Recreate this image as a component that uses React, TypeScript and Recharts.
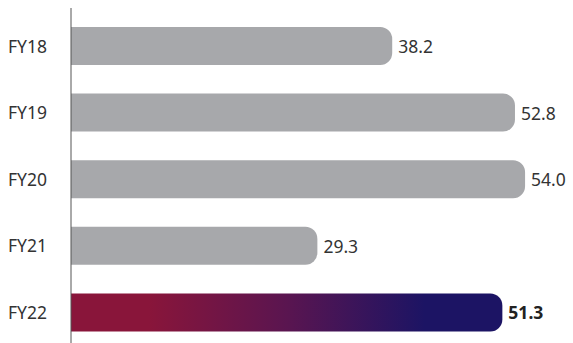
import React from 'react';
import { BarChart, Bar, XAxis, YAxis, Cell, LabelList } from 'recharts';

const categories = ['FY18', 'FY19', 'FY20', 'FY21', 'FY22'];
const values = [38.2, 52.8, 54.0, 29.3, 51.3];
const valueLabels = ['38.2', '52.8', '54.0', '29.3', '51.3'];
const highlightIndex = 4;

const data = categories.map((c, i) => ({ name: c, value: values[i], label: valueLabels[i] }));

const FONT = '"Noto Sans", sans-serif';

const renderLabel = (props: any) => {
  const { x, y, width, height, index } = props;
  const bold = index === highlightIndex;
  return (
    <text
      x={x + width + 6}
      y={y + height / 2}
      dominantBaseline="central"
      fontFamily={FONT}
      fontSize={17.5}
      fontWeight={bold ? 700 : 400}
      fill={bold ? '#222' : '#333'}
    >
      {valueLabels[index]}
    </text>
  );
};

export default function App() {
  return (
    <div style={{ position: 'absolute', left: 0, top: 0, width: 573, height: 343, overflow: 'hidden', background: '#fff' }}>
      <BarChart
        width={573}
        height={346}
        data={data}
        layout="vertical"
        margin={{ top: 8, right: 0, bottom: 0, left: 0 }}
        barSize={38}
      >
        <defs>
          <linearGradient id="fy22grad" x1="0" y1="0" x2="1" y2="0">
            <stop offset="0%" stopColor="#89153a" />
            <stop offset="18%" stopColor="#89153a" />
            <stop offset="50%" stopColor="#5a1550" />
            <stop offset="82%" stopColor="#1c1464" />
            <stop offset="100%" stopColor="#1c1464" />
          </linearGradient>
        </defs>
        <XAxis type="number" domain={[0, 59.7]} hide />
        <YAxis
          type="category"
          dataKey="name"
          width={71}
          padding={{ top: 5, bottom: 0 }}
          axisLine={{ stroke: '#555', strokeWidth: 1 }}
          tickLine={false}
          tick={{ fontFamily: FONT, fontSize: 17.5, fill: '#333' }}
          tickMargin={18}
        />
        <Bar dataKey="value" radius={[0, 12, 12, 0]} isAnimationActive={false}>
          {data.map((d, i) => (
            <Cell key={d.name} fill={i === highlightIndex ? 'url(#fy22grad)' : '#a7a8ab'} />
          ))}
          <LabelList dataKey="value" content={renderLabel} />
        </Bar>
      </BarChart>
    </div>
  );
}
